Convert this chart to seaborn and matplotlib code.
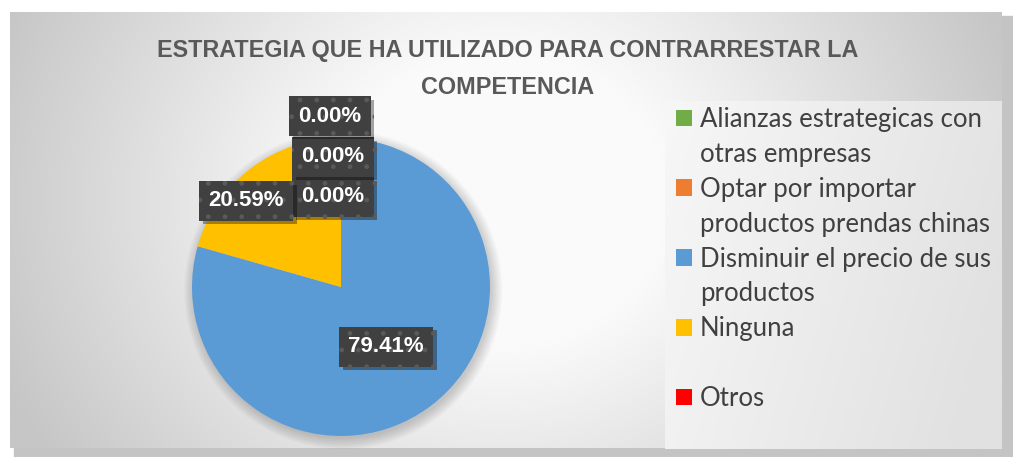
import numpy as np
import matplotlib
matplotlib.use("Agg")
import matplotlib.pyplot as plt
import matplotlib.patheffects as pe
from matplotlib.patches import Rectangle, Circle
import seaborn as sns

# ---------------- data ----------------
categories = ["Alianzas estrategicas con otras empresas",
              "Optar por importar productos prendas chinas",
              "Disminuir el precio de sus productos",
              "Ninguna",
              "Otros"]
legend_lines = [["Alianzas estrategicas con", "otras empresas"],
                ["Optar por importar", "productos prendas chinas"],
                ["Disminuir el precio de sus", "productos"],
                ["Ninguna", ""],
                ["Otros"]]
percentages = [0.0, 0.0, 79.41, 20.59, 0.0]
title_text = "ESTRATEGIA QUE HA UTILIZADO PARA CONTRARRESTAR LA\nCOMPETENCIA"

colors = ["#70AD47", "#ED7D31", "#5B9BD5", "#FFC000", "#FF0000"]

# ---------------- style ----------------
sns.set_theme(style="white")
plt.rcParams["font.family"] = ["Lato", "DejaVu Sans"]
BOLD_FAMILY = ["Liberation Sans", "DejaVu Sans"]

W, H = 1013, 457
fig = plt.figure(figsize=(W / 100, H / 100), dpi=100)

# background axes in pixel coordinates (y downward)
bg = fig.add_axes([0, 0, 1, 1])
bg.set_xlim(0, W)
bg.set_ylim(H, 0)
bg.axis("off")
bg.add_patch(Rectangle((0, 0), W, H, color="white", zorder=0))
# shadow of chart area
bg.add_patch(Rectangle((14, 16), 999, 441, color="#c4c4c4", zorder=0.5))
# radial gradient chart area
x0, y0, x1, y1 = 10, 12, 1002, 448
xs = np.linspace(x0, x1, 500)
ys = np.linspace(y0, y1, 250)
XX, YY = np.meshgrid(xs, ys)
d = np.hypot(XX - 500, (YY - 200) * 1.15)
val = 250 - 52 * np.clip((d - 170) / 370, 0, 1)
img = np.dstack([val, val, val]) / 255.0
bg.imshow(img, extent=(x0, x1, y1, y0), zorder=1, aspect="auto", interpolation="bilinear")

# legend background with horizontal gradient
lx0, ly0, lx1, ly1 = 665, 101, 1002, 449
gx = np.linspace(0, 1, 300)
gy = np.linspace(0, 1, 100)
GX, GY = np.meshgrid(gx, gy)
lval = 247 - 22 * np.clip(GX * 0.85 + GY * 0.25, 0, 1)
limg = np.dstack([lval, lval, lval]) / 255.0
bg.imshow(limg, extent=(lx0, lx1, ly1, ly0), zorder=2, aspect="auto", interpolation="bilinear")

# title
bg.text(508, 69, title_text, ha="center", va="center", fontsize=16.8, fontweight="bold",
        family=BOLD_FAMILY, color="#595959", linespacing=1.8, zorder=5)

# ---------------- pie ----------------
cx, cy, R = 341, 287, 150
ax = fig.add_axes([(cx - R) / W, (H - cy - R) / H, 2 * R / W, 2 * R / H])

# soft shadow around pie
for k, rr in enumerate(np.linspace(1.06, 0.99, 8)):
    ax.add_patch(Circle((0.015, -0.02), rr, color="black", alpha=0.025, lw=0,
                        clip_on=False, zorder=0))

wedges, _ = ax.pie(percentages, colors=colors, startangle=90, counterclock=False,
                   radius=149 / 150, wedgeprops=dict(linewidth=0))
for w in wedges:
    w.set_zorder(2)
ax.set_xlim(-1, 1)
ax.set_ylim(-1, 1)
ax.set_aspect("equal")
ax.axis("off")

# label placement (layout: radius along wedge mid-angle plus small nudges)
label_r = [1.14, 0.867, 0.5, 0.75, 0.6]
label_dx = [-0.073, -0.053, 0.0, -0.18, -0.053]
label_dy = [0.0, 0.0, 0.0, -0.025, 0.0]

for i, (w, v) in enumerate(zip(wedges, percentages)):
    mid = np.deg2rad((w.theta1 + w.theta2) / 2)
    px = label_r[i] * np.cos(mid) + label_dx[i]
    py = label_r[i] * np.sin(mid) + label_dy[i]
    t = ax.text(px, py, f"{v:.2f}%", ha="center", va="center", color="white",
                fontsize=16, fontweight="bold", family=BOLD_FAMILY, zorder=10 + (5 - i),
                bbox=dict(boxstyle="square,pad=0.42", facecolor="#404040",
                          edgecolor="#5a5a5a", linewidth=0, hatch="."))
    t.get_bbox_patch().set_path_effects([
        pe.SimplePatchShadow(offset=(2.5, -2.5), shadow_rgbFace="black", alpha=0.35),
        pe.Normal()])

# ---------------- legend ----------------
handles, labels = [], []
for w, lines in zip(wedges, legend_lines):
    for j, line in enumerate(lines):
        if j == 0:
            handles.append(Rectangle((0, 0), 1, 1, facecolor=w.get_facecolor(), lw=0))
        else:
            handles.append(Rectangle((0, 0), 1, 1, facecolor="none", lw=0, visible=False))
        labels.append(line if line else " ")

leg = fig.legend(handles, labels, loc="upper left",
                 bbox_to_anchor=(676 / W, 1 - 107 / H), frameon=False,
                 fontsize=18.5, handlelength=0.62, handleheight=0.62,
                 handletextpad=0.3, labelspacing=0.385, borderpad=0, borderaxespad=0)
for txt in leg.get_texts():
    txt.set_color("#404040")
leg.set_zorder(20)

fig.savefig("out.png", dpi=100)
